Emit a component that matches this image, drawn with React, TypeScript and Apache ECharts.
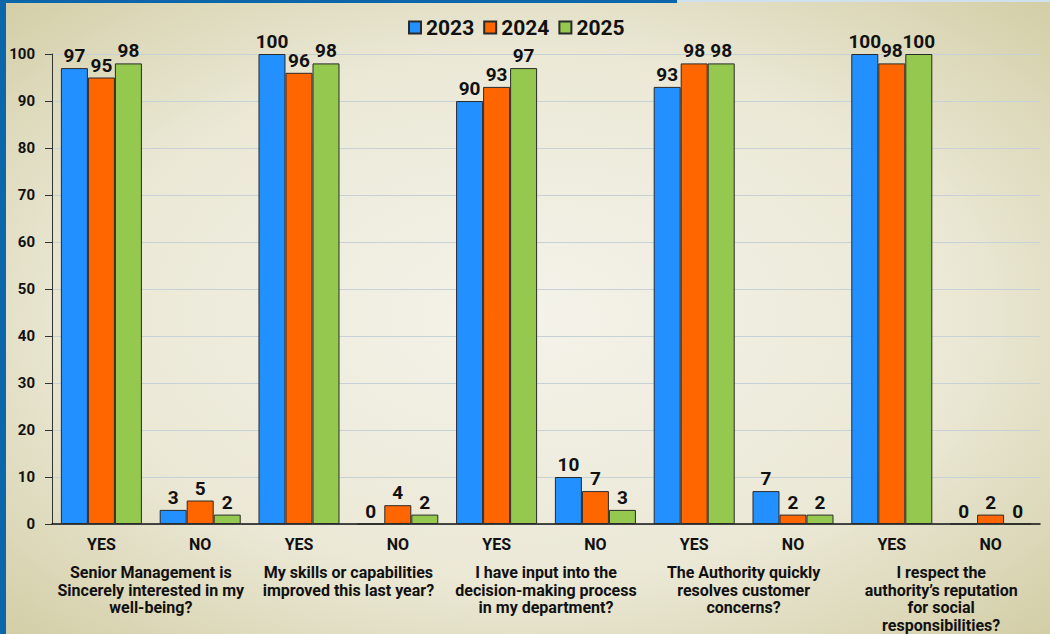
import React, { useEffect, useRef } from "react";
import * as echarts from "echarts";

const categories = ["YES", "NO", "YES", "NO", "YES", "NO", "YES", "NO", "YES", "NO"];
const questions = [
  "Senior Management is\nSincerely interested in my\nwell-being?",
  "My skills or capabilities\nimproved this last year?",
  "I have input into the\ndecision-making process\nin my department?",
  "The Authority quickly\nresolves customer\nconcerns?",
  "I respect the\nauthority\u2019s reputation\nfor social\nresponsibilities?",
];
const years = ["2023", "2024", "2025"];
const values2023 = [97, 3, 100, 0, 90, 10, 93, 7, 100, 0];
const values2024 = [95, 5, 96, 4, 93, 7, 98, 2, 98, 2];
const values2025 = [98, 2, 98, 2, 97, 3, 98, 2, 100, 0];
const colors = ["#2390ff", "#ff6600", "#94c84e"];

export default function App() {
  const ref = useRef<HTMLDivElement>(null);
  useEffect(() => {
    if (!ref.current) return;
    const chart = echarts.init(ref.current, null, { renderer: "svg" });
    const font = "Roboto";
    const seriesData = [values2023, values2024, values2025];
    chart.setOption({
      animation: false,
      backgroundColor: {
        type: "radial",
        x: 0.5,
        y: 0.5,
        r: 0.75,
        colorStops: [
          { offset: 0, color: "#f4f3ea" },
          { offset: 0.55, color: "#ebe8d6" },
          { offset: 1, color: "#cfca9f" },
        ],
      },
      textStyle: { fontFamily: font },
      graphic: [
        { type: "rect", left: 0, top: 0, shape: { width: 6, height: 634 }, style: { fill: "#0b66aa" }, z: 100 },
        { type: "rect", left: 0, top: 0, shape: { width: 677, height: 3 }, style: { fill: "#0b66aa" }, z: 100 },
        { type: "rect", left: 677, top: 0, shape: { width: 373, height: 2 }, style: { fill: "#cfe0ee" }, z: 100 },
      ],
      legend: {
        top: 12,
        left: 403,
        itemWidth: 12,
        itemHeight: 12,
        itemGap: 9,
        icon: "rect",
        data: years,
        textStyle: { fontSize: 21, fontWeight: "bold", color: "#111", fontFamily: font },
      },
      grid: { left: 52, right: 10, top: 54, bottom: 109, containLabel: false },
      xAxis: [
        {
          type: "category",
          data: categories,
          axisLine: { lineStyle: { color: "#111", width: 1.5 } },
          axisTick: { show: false },
          axisLabel: { interval: 0, fontSize: 16, fontWeight: "bold", color: "#111", margin: 12, fontFamily: font },
        },
        {
          type: "category",
          data: questions,
          position: "bottom",
          offset: 33,
          axisLine: { show: false },
          axisTick: { show: false },
          axisLabel: {
            interval: 0,
            fontSize: 16,
            fontWeight: "bold",
            color: "#111",
            lineHeight: 17.5,
            verticalAlign: "top",
            margin: 7,
            fontFamily: font,
          },
        },
      ],
      yAxis: {
        type: "value",
        min: 0,
        max: 100,
        interval: 10,
        axisLine: { show: true, lineStyle: { color: "#333", width: 1 } },
        axisTick: { show: true, length: 7, lineStyle: { color: "#333" } },
        axisLabel: { fontSize: 15, fontWeight: "bold", color: "#111", margin: 17, fontFamily: font },
        splitLine: { lineStyle: { color: "#c6d2d6", width: 1 } },
      },
      series: years.map((y, i) => ({
        name: y,
        type: "bar",
        xAxisIndex: 0,
        data: seriesData[i],
        barGap: "0%",
        barCategoryGap: "18%",
        itemStyle: { color: colors[i], borderColor: "#2a2a2a", borderWidth: 1 },
        label: {
          show: true,
          position: "top",
          distance: 3,
          fontSize: 19,
          fontWeight: "bold",
          color: "#111",
          fontFamily: font,
        },
      })),
    });
    return () => chart.dispose();
  }, []);
  return <div ref={ref} style={{ width: 1050, height: 634, position: "absolute", left: 0, top: 0 }} />;
}
